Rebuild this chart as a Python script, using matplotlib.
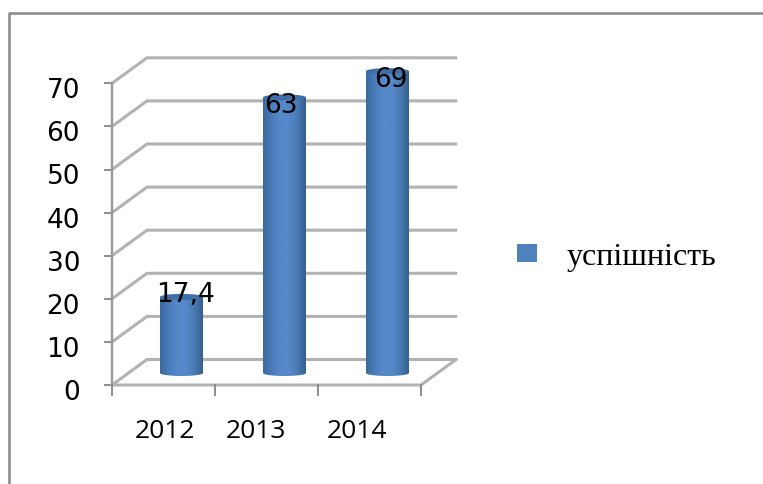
import matplotlib
matplotlib.use("Agg")
import matplotlib.pyplot as plt
import numpy as np
from matplotlib.colors import LinearSegmentedColormap
from matplotlib.patches import Ellipse, Patch, PathPatch
from matplotlib.path import Path

years = ["2012", "2013", "2014"]
values = [17.4, 63, 69]
value_labels = ["17,4", "63", "69"]
y_ticks = [0, 10, 20, 30, 40, 50, 60, 70]
series_name = "успішність"

W, H = 763, 485
PX_X = 103.0   # pixels per category
PX_Y = 4.31    # pixels per value unit
X0 = 163.5     # pixel of first category on the front edge
Y0 = 386.0     # pixel of value 0 on the front edge

# depth of the fake 3d floor, in data units
DX = 35 / PX_X
DY = 25.5 / PX_Y
# cylinders stand in the middle of the floor
BAR_DX = 18 / PX_X
BAR_BASE = 12 / PX_Y
BAR_HALF = 21.5 / PX_X
BAR_SCALE = 1.015
CAP = 3 / PX_Y

GRID = "#b2b2b2"
BLUE = "#4f81bd"

cyl_cmap = LinearSegmentedColormap.from_list(
    "cyl", ["#3a6a9f", "#4a7cb8", "#5589ca", "#5589c9", "#4a7bb5", "#35608f"])

# label nudges in pixels (x right, y down) from the cylinder top
label_nudge = [(4, -3), (-4, 8), (3, 8)]
x_label_shift = [1, -11, -13]

fig = plt.figure(figsize=(W / 100, H / 100), dpi=100)
ax = fig.add_axes([0, 0, 1, 1])
ax.set_xlim(-X0 / PX_X, (W - X0) / PX_X)
ax.set_ylim((Y0 - H) / PX_Y, Y0 / PX_Y)
ax.axis("off")

x_left, x_right = -0.5, len(years) - 0.5

# back wall grid, side wall diagonals and y ticks
for v in y_ticks:
    ax.plot([x_left, x_left + DX, x_right + DX], [v, v + DY, v + DY],
            color=GRID, lw=2.2, solid_capstyle="round", zorder=1)
    ax.plot([x_left - 0.07, x_left], [v, v], color="#8c8c8c", lw=1.4, zorder=2)
    ax.text(x_left - 32 / PX_X, v - 4 / PX_Y, str(v), ha="right", va="center_baseline",
            fontsize=19, family="DejaVu Sans", color="black", zorder=5)

# axis lines and floor
ax.plot([x_left, x_left], [0, y_ticks[-1]], color="#999999", lw=1.7, zorder=2)
ax.plot([x_left, x_right, x_right + DX], [0, 0, DY], color=GRID, lw=2.2, zorder=2)
for i in range(len(years) + 1):
    ax.plot([x_left + i, x_left + i], [0, -10 / PX_Y], color="#8c8c8c", lw=1.4, zorder=2)

for i, yr in enumerate(years):
    ax.text(i + x_label_shift[i] / PX_X, -46 / PX_Y, yr, ha="center", va="center",
            fontsize=19, family="Open Sans", color="black", zorder=5)

# cylinders
for i, v in enumerate(values):
    cx = i + BAR_DX
    base = BAR_BASE
    top = base + v * BAR_SCALE
    left, right = cx - BAR_HALF, cx + BAR_HALF
    t = np.linspace(np.pi, 2 * np.pi, 40)
    xs = cx + BAR_HALF * np.cos(t)
    ys = base + CAP * np.sin(t)
    verts = [(left, top)] + list(zip(xs, ys)) + [(right, top), (left, top)]
    codes = [Path.MOVETO] + [Path.LINETO] * (len(verts) - 2) + [Path.CLOSEPOLY]
    clip = PathPatch(Path(verts, codes), transform=ax.transData, fc="none", ec="none")
    ax.add_patch(clip)
    im = ax.imshow(np.linspace(0, 1, 64).reshape(1, -1), cmap=cyl_cmap, aspect="auto",
                   extent=(left, right, base - CAP, top), zorder=3,
                   interpolation="bilinear")
    im.set_clip_path(clip)
    ax.add_patch(Ellipse((cx, top), 2 * BAR_HALF, 2 * CAP, fc="#3f6fa6", ec="none", zorder=4))
    nx, ny = label_nudge[i]
    ax.text(cx + nx / PX_X, top - ny / PX_Y, value_labels[i], ha="center", va="center",
            fontsize=19, family="DejaVu Sans", color="black", zorder=6)

ax.set_xlim(-X0 / PX_X, (W - X0) / PX_X)
ax.set_ylim((Y0 - H) / PX_Y, Y0 / PX_Y)

# outer frame, runs off the picture on the right and the bottom
ax.plot([(9 - X0) / PX_X, (9 - X0) / PX_X, (W + 5 - X0) / PX_X],
        [(Y0 - H - 5) / PX_Y, (Y0 - 14) / PX_Y, (Y0 - 14) / PX_Y],
        color="#8c8c8c", lw=1.9, clip_on=False, zorder=1)

ax.legend(handles=[Patch(fc=BLUE, ec="none", label=series_name)],
          loc="center left", bbox_to_anchor=(517 / W, 1 - 257.5 / H), frameon=False,
          prop={"family": "Liberation Serif", "size": 23},
          handlelength=0.625, handleheight=0.5, handletextpad=0.94,
          borderaxespad=0, borderpad=0)

fig.savefig("out.png", dpi=100, facecolor="white")
plt.close(fig)
